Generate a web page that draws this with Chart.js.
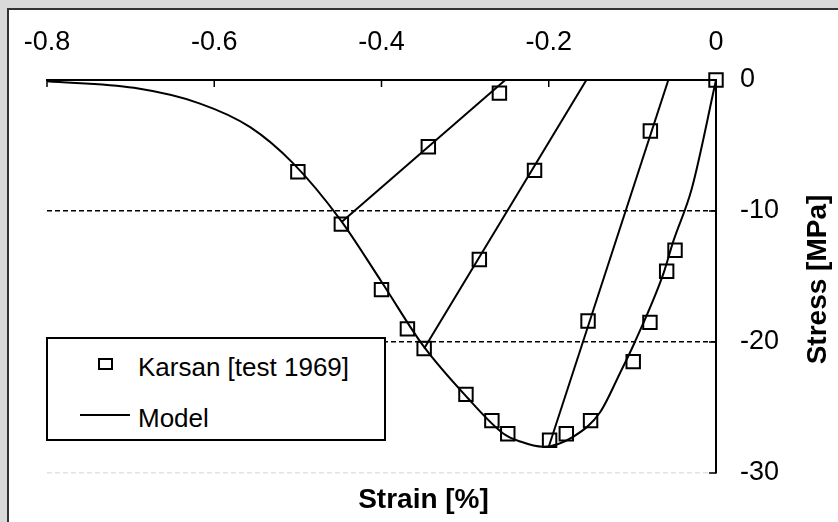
<!DOCTYPE html>
<html>
<head>
<meta charset="utf-8">
<script src="https://cdn.jsdelivr.net/npm/chart.js@4.4.1/dist/chart.umd.min.js"></script>
<style>
html,body{margin:0;padding:0;}
body{width:838px;height:522px;overflow:hidden;background:#d9d9d9;position:relative;font-family:"Liberation Sans",Arial,sans-serif;}
#panel{position:absolute;left:7px;top:8px;width:900px;height:600px;background:#fff;border-left:2px solid #333;border-top:2px solid #333;}
#wrap{position:absolute;left:0;top:0;width:838px;height:522px;}
#legend{position:absolute;left:46px;top:337px;width:340px;height:104px;box-sizing:border-box;border:2px solid #000;background:#fff;z-index:2;}
.lg{position:absolute;z-index:3;}
.txt{font-size:26px;line-height:30px;color:#000;white-space:nowrap;}
</style>
</head>
<body>
<div id="panel"></div>
<div id="wrap"><canvas id="c" width="838" height="522"></canvas></div>
<div id="legend"></div>
<div class="lg" style="left:98px;top:358px;width:15px;height:12px;box-sizing:border-box;border:2px solid #000;"></div>
<div class="lg txt" style="left:138px;top:352px;">Karsan [test 1969]</div>
<div class="lg" style="left:80px;top:414px;width:50px;height:2px;background:#000;"></div>
<div class="lg txt" style="left:138px;top:403px;">Model</div>
<script>
// ---- data ----
const testStrain = [0, -0.5, -0.448, -0.344, -0.259, -0.400, -0.369, -0.349, -0.283, -0.217, -0.299, -0.268, -0.249, -0.199, -0.179, -0.150, -0.153, -0.0785, -0.099, -0.079, -0.059, -0.049];
const testStress = [0, -7.0, -11.0, -5.1, -1.0, -16.0, -19.0, -20.5, -13.7, -6.9, -24.0, -26.0, -27.0, -27.5, -27.0, -26.0, -18.4, -3.9, -21.5, -18.5, -14.6, -13.0];

const modelStrain = [-0.8, -0.696, -0.617, -0.557, -0.505, -0.45, -0.40, -0.35, -0.298, -0.254, -0.234, -0.207, -0.170, -0.139, -0.115, -0.097, -0.063, -0.051, -0.029, 0];
const modelStress = [-0.1, -0.6, -1.8, -3.6, -6.4, -10.6, -15.4, -20.3, -24.2, -27.0, -27.6, -28.0, -27.2, -25.4, -22.4, -20.0, -14.8, -12.3, -8.3, 0];

const unload1Strain = [-0.2, -0.057];
const unload1Stress = [-28.0, 0];
const unload2Strain = [-0.349, -0.155];
const unload2Stress = [-20.5, 0];
const unload3Strain = [-0.447, -0.252];
const unload3Stress = [-10.8, 0];

const xTickValues = [-0.8, -0.6, -0.4, -0.2, 0];
const xTickLabels = ['-0.8', '-0.6', '-0.4', '-0.2', '0'];
const yTickValues = [0, -10, -20, -30];
const yTickLabels = ['0', '-10', '-20', '-30'];

const xTitle = 'Strain [%]';
const yTitle = 'Stress [MPa]';

// ---- build ----
const pts = (xs, ys) => xs.map((v, i) => ({x: v, y: ys[i]}));
const FONT = '"Liberation Sans", Arial, sans-serif';

const lineDs = (xs, ys, extra) => Object.assign({
  data: pts(xs, ys), showLine: true, pointRadius: 0, borderColor: '#000',
  borderWidth: 2, backgroundColor: 'transparent', fill: false, tension: 0
}, extra || {});

const extras = {
  id: 'extras',
  afterDraw(chart) {
    const {ctx, scales: {x, y}, chartArea} = chart;
    ctx.save();
    ctx.strokeStyle = '#000';
    ctx.lineWidth = 1.5;
    ctx.beginPath();
    xTickValues.forEach(v => {
      if (v === 0) return;
      const px = x.getPixelForValue(v);
      ctx.moveTo(px, chartArea.top);
      ctx.lineTo(px, chartArea.top + 7);
    });
    yTickValues.forEach(v => {
      if (v === 0) return;
      const py = y.getPixelForValue(v);
      ctx.moveTo(chartArea.right, py);
      ctx.lineTo(chartArea.right - 7, py);
    });
    ctx.stroke();
    ctx.fillStyle = '#000';
    ctx.font = 'bold 28px ' + FONT;
    ctx.textAlign = 'center';
    ctx.textBaseline = 'alphabetic';
    ctx.fillText(xTitle, (chartArea.left + chartArea.right) / 2 + 42, chartArea.bottom + 35);
    ctx.translate(chartArea.right + 110, (chartArea.top + chartArea.bottom) / 2 + 3);
    ctx.rotate(-Math.PI / 2);
    ctx.fillText(yTitle, 0, 0);
    ctx.restore();
  }
};

new Chart(document.getElementById('c'), {
  type: 'scatter',
  data: {
    datasets: [
      lineDs(modelStrain, modelStress, {cubicInterpolationMode: 'monotone', label: 'Model'}),
      lineDs(unload1Strain, unload1Stress, {label: 'Model'}),
      lineDs(unload2Strain, unload2Stress, {label: 'Model'}),
      lineDs(unload3Strain, unload3Stress, {label: 'Model'}),
      {
        label: 'Karsan [test 1969]',
        data: pts(testStrain, testStress),
        showLine: false,
        pointStyle: 'rect',
        pointRadius: 9.5,
        pointHoverRadius: 9.5,
        borderWidth: 2,
        borderColor: '#000',
        backgroundColor: 'transparent',
        clip: false
      }
    ]
  },
  options: {
    responsive: false,
    animation: false,
    events: [],
    layout: {padding: {left: 47, right: 0, top: 0, bottom: 49}},
    plugins: {legend: {display: false}, tooltip: {enabled: false}, title: {display: false}},
    scales: {
      x: {
        type: 'linear', position: 'top', min: -0.8, max: 0,
        afterBuildTicks: s => { s.ticks = xTickValues.map(v => ({value: v})); },
        afterFit: s => { s.height = 80; },
        ticks: {
          callback: v => xTickLabels[xTickValues.indexOf(v)],
          font: {family: FONT, size: 27}, color: '#000', padding: 21, maxRotation: 0, autoSkip: false
        },
        grid: {display: false, drawTicks: false},
        border: {display: true, color: '#000', width: 2}
      },
      y: {
        type: 'linear', position: 'right', min: -30, max: 0,
        afterBuildTicks: s => { s.ticks = yTickValues.map(v => ({value: v})); },
        afterFit: s => { s.width = 122; },
        ticks: {
          callback: v => yTickLabels[yTickValues.indexOf(v)],
          font: {family: FONT, size: 27}, color: '#000', padding: 24, autoSkip: false
        },
        grid: {
          drawTicks: false,
          lineWidth: 1.6,
          color: c => {
            const v = c.tick ? c.tick.value : null;
            if (v === 0) return 'rgba(0,0,0,0)';
            if (v === -30) return '#e2e2e2';
            return '#000';
          }
        },
        border: {display: true, color: '#000', width: 2, dash: [5, 3]}
      }
    }
  },
  plugins: [extras]
});
</script>
</body>
</html>
